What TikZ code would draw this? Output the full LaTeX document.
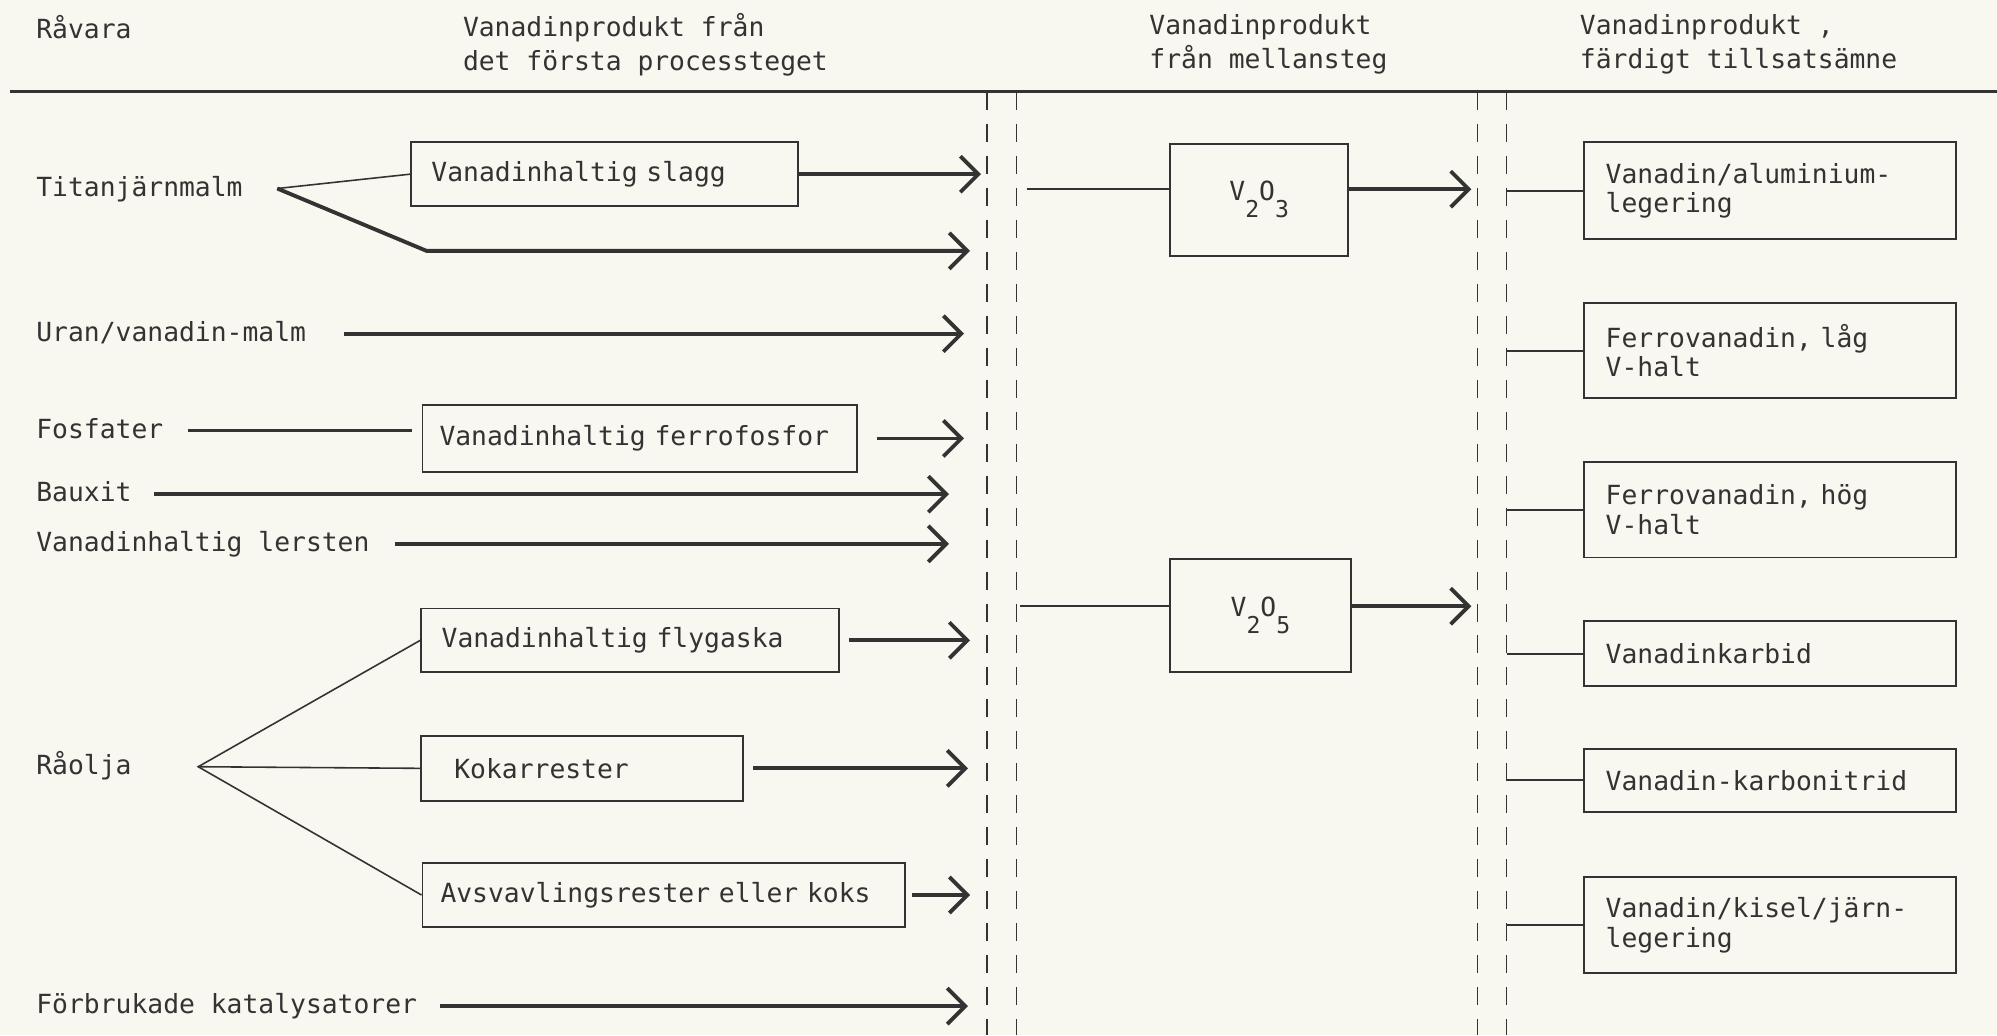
\documentclass[tikz,border=0pt]{standalone}
\usepackage{fontspec}
\setmonofont{DejaVu Sans Mono}
\usetikzlibrary{arrows.meta}
\definecolor{paper}{HTML}{F8F7F0}
\definecolor{ink}{HTML}{333333}
\newcommand{\oxsub}[1]{\raisebox{-4.8pt}{\fontsize{6.6}{6.6}\selectfont #1}}
\tikzset{
  lbl/.style={anchor=west, inner sep=0pt, text height=6pt, text depth=1.7pt},
  head/.style={anchor=west, inner sep=0pt, align=left, font=\ttfamily\fontsize{7.5}{9.75}\selectfont},
  box/.style={draw=ink, line width=0.55pt, anchor=north west, align=left, inner ysep=0pt},
  oxid/.style={draw=ink, line width=0.55pt, anchor=north west, inner sep=0pt},
  arr/.style={draw=ink, line width=1.1pt, -{Straight Barb[length=1.8mm,width=3.6mm]}},
  con/.style={draw=ink, line width=0.6pt},
  thin/.style={draw=ink, line width=0.45pt},
  sep/.style={draw=ink, line width=0.45pt, dash pattern=on 1.8mm off 1.4mm}
}

\begin{document}
\begin{tikzpicture}[x=0.012736cm, y=-0.012736cm,
    every node/.style={text=ink, font=\ttfamily\fontsize{7.5}{8.5}\selectfont}]
  \useasboundingbox (0,0) rectangle (1568,813);
  \fill[paper] (0,0) rectangle (1568,813);
  % header
  \node[head] (hraw) at (28,21) {Råvara};
  \node[head] (hfirst) at (363,35) {Vanadinprodukt från\\det första processteget};
  \node[head] (hmid) at (902,35) {Vanadinprodukt\\från mellansteg};
  \node[head] (hfinal) at (1240,35) {Vanadinprodukt ,\\färdigt tillsatsämne};
  \draw[ink, line width=0.8pt] (8,72) -- (1568,72);
  % stage borders
  \coordinate (s1) at (775,72);
  \coordinate (s2) at (798,72);
  \coordinate (s3) at (1160,72);
  \coordinate (s4) at (1183,72);
  \draw[sep] (s1) -- ++(0,741) (s2) -- ++(0,741) (s3) -- ++(0,741) (s4) -- ++(0,741);
  % raw materials
  \node[lbl] (titan) at (28,148) {Titanjärnmalm};
  \node[lbl] (uran) at (28,262) {Uran/vanadin-malm};
  \node[lbl] (fosf) at (28,338) {Fosfater};
  \node[lbl] (baux) at (28,388) {Bauxit};
  \node[lbl] (lers) at (28,427) {Vanadinhaltig lersten};
  \node[lbl] (raol) at (28,602) {Råolja};
  \node[lbl] (forb) at (28,790) {Förbrukade katalysatorer};
  % first step
  \node[box, text width=3.464cm, inner xsep=0.204cm, minimum height=0.637cm] (slagg) at (322,111) {Vanadinhaltig slagg};
  \node[box, text width=4.003cm, inner xsep=0.17cm, minimum height=0.675cm] (ferro) at (331,317) {Vanadinhaltig ferrofosfor};
  \node[box, text width=3.769cm, inner xsep=0.204cm, minimum height=0.637cm] (flyg) at (330,477) {Vanadinhaltig flygaska};
  \node[box, text width=2.56cm, inner xsep=0.331cm, minimum height=0.65cm] (kok) at (330,577) {Kokarrester};
  \node[box, text width=4.467cm, inner xsep=0.18cm, minimum height=0.637cm] (avsv) at (331,677) {Avsvavlingsrester eller koks};
  \coordinate (tjbend) at (335,197);
  \draw[thin] ([xshift=3.4mm]titan.east) -- (slagg.west);
  \draw[arr, shorten >=1.7mm] ([xshift=3.4mm]titan.east) -- (tjbend) -- (tjbend -| s1);
  \draw[arr, shorten >=0.6mm] (slagg.east) -- (slagg.east -| s1);
  \draw[arr, shorten <=3.7mm, shorten >=2.3mm] (uran.east) -- (uran.east -| s1);
  \draw[ink, line width=1.1pt, shorten <=2.4mm, shorten >=1mm] (fosf.east) -- (fosf.east -| ferro.west);
  \draw[arr, shorten <=1.9mm, shorten >=2.3mm] (ferro.east) -- (ferro.east -| s1);
  \draw[arr, shorten <=2.2mm, shorten >=3.8mm] (baux.east) -- (baux.east -| s1);
  \draw[arr, shorten <=2.5mm, shorten >=3.8mm] (lers.east) -- (lers.east -| s1);
  \draw[thin] (flyg.west) -- ([xshift=6.6mm]raol.east) -- (avsv.west);
  \draw[thin] ([xshift=6.6mm]raol.east) -- (kok.west);
  \draw[arr, shorten <=0.9mm, shorten >=1.7mm] (flyg.east) -- (flyg.east -| s1);
  \draw[arr, shorten <=0.9mm, shorten >=1.9mm] (kok.east) -- (kok.east -| s1);
  \draw[arr, shorten <=0.6mm, shorten >=1.7mm] (avsv.east) -- (avsv.east -| s1);
  \draw[arr, shorten <=2.2mm, shorten >=1.9mm] (forb.east) -- (forb.east -| s1);
  % intermediate step
  \node[oxid, minimum width=1.783cm, minimum height=1.121cm] (vtre) at (918,112) {V\oxsub{2}O\oxsub{3}};
  \node[oxid, minimum width=1.808cm, minimum height=1.134cm] (vfem) at (918,438) {V\oxsub{2}O\oxsub{5}};
  \coordinate (m3) at (806,148.5);
  \coordinate (m5) at (801,476);
  \draw[con] (m3) -- (m3 -| vtre.west);
  \draw[arr, shorten >=0.6mm] (m3 -| vtre.east) -- (m3 -| s3);
  \draw[con] (m5) -- (m5 -| vfem.west);
  \draw[arr, shorten >=0.6mm] (m5 -| vfem.east) -- (m5 -| s3);
  % finished products
  \node[box, text width=3.285cm, inner xsep=0.217cm, minimum height=0.968cm] (alu) at (1243,111) {Vanadin/aluminium-\\legering};
  \node[box, text width=3.285cm, inner xsep=0.217cm, minimum height=0.955cm] (lag) at (1243,237) {Ferrovanadin, låg\\V-halt};
  \node[box, text width=3.285cm, inner xsep=0.217cm, minimum height=0.955cm] (hog) at (1243,362) {Ferrovanadin, hög\\V-halt};
  \node[box, text width=3.285cm, inner xsep=0.217cm, minimum height=0.65cm] (karb) at (1243,487) {Vanadinkarbid};
  \node[box, text width=3.285cm, inner xsep=0.217cm, minimum height=0.637cm] (nitr) at (1243,587) {Vanadin-karbonitrid};
  \node[box, text width=3.285cm, inner xsep=0.217cm, minimum height=0.955cm] (kisel) at (1243,688) {Vanadin/kisel/järn-\\legering};
  \draw[con] (alu.west -| s4) -- (alu.west) (lag.west -| s4) -- (lag.west) (hog.west -| s4) -- (hog.west)
    (karb.west -| s4) -- (karb.west) (nitr.west -| s4) -- (nitr.west) (kisel.west -| s4) -- (kisel.west);
\end{tikzpicture}
\end{document}
